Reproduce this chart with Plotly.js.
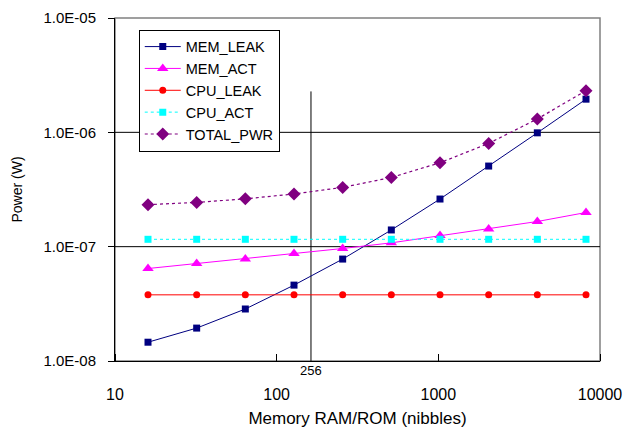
<!DOCTYPE html>
<html>
<head>
<meta charset="utf-8">
<script src="https://cdn.plot.ly/plotly-3.0.1.min.js"></script>
<style>html,body{margin:0;padding:0;background:#fff;}#chart{width:626px;height:428px;}</style>
</head>
<body>
<div id="chart"></div>
<script>
const memory = [16, 32, 64, 128, 256, 512, 1024, 2048, 4096, 8192];
const memLeak = [1.46e-8, 1.94e-8, 2.85e-8, 4.61e-8, 7.79e-8, 1.40e-7, 2.61e-7, 5.07e-7, 9.9e-7, 1.95e-6];
const memAct = [6.44e-8, 7.13e-8, 7.79e-8, 8.72e-8, 9.64e-8, 1.08e-7, 1.25e-7, 1.43e-7, 1.66e-7, 1.99e-7];
const cpuLeak = [3.79e-8, 3.79e-8, 3.79e-8, 3.79e-8, 3.79e-8, 3.79e-8, 3.79e-8, 3.79e-8, 3.79e-8, 3.79e-8];
const cpuAct = [1.16e-7, 1.16e-7, 1.16e-7, 1.16e-7, 1.16e-7, 1.16e-7, 1.16e-7, 1.16e-7, 1.16e-7, 1.16e-7];
const totalPwr = [2.33e-7, 2.44e-7, 2.62e-7, 2.89e-7, 3.30e-7, 4.03e-7, 5.42e-7, 8.0e-7, 1.31e-6, 2.31e-6];
const yTickVals = [1e-8, 1e-7, 1e-6, 1e-5];
const yTickText = ["1.0E-08", "1.0E-07", "1.0E-06", "1.0E-05"];
const xTickVals = [10, 100, 1000, 10000];
const xTickText = ["10", "100", "1000", "10000"];
const refLineX = 163;      // position of the reference line as drawn in the source
const refLineLabel = "256";
const refLineTop = 2.28e-6;

const fam = "Liberation Sans, Arial, sans-serif";

const traces = [
  {x: memory, y: memLeak, name: "MEM_LEAK", mode: "lines+markers",
   line: {color: "#000080", width: 1}, marker: {symbol: "square", size: 7, color: "#000080"}},
  {x: memory, y: memAct, name: "MEM_ACT", mode: "lines+markers",
   line: {color: "#FF00FF", width: 1}, marker: {symbol: "triangle-up", size: 10, color: "#FF00FF"}},
  {x: memory, y: cpuLeak, name: "CPU_LEAK", mode: "lines+markers",
   line: {color: "#FF0000", width: 1}, marker: {symbol: "circle", size: 7, color: "#FF0000"}},
  {x: memory, y: cpuAct, name: "CPU_ACT", mode: "lines+markers",
   line: {color: "#00FFFF", width: 1, dash: "dot"}, marker: {symbol: "square", size: 7, color: "#00FFFF"}},
  {x: memory, y: totalPwr, name: "TOTAL_PWR", mode: "lines+markers",
   line: {color: "#800080", width: 1.2, dash: "dot"}, marker: {symbol: "diamond", size: 10, color: "#800080"}}
];

const layout = {
  width: 626, height: 428,
  margin: {l: 115, r: 26, t: 18, b: 67},
  paper_bgcolor: "#fff", plot_bgcolor: "#fff",
  font: {family: fam, size: 13, color: "#000"},
  showlegend: true,
  legend: {x: 0.049, y: 0.966, xanchor: "left", yanchor: "top",
    bgcolor: "#fff", bordercolor: "#000", borderwidth: 1, font: {family: fam, size: 14.5, color: "#000"},
    tracegroupgap: 0, itemwidth: 36},
  xaxis: {type: "log", range: [1, 4], tickvals: xTickVals, ticktext: xTickText,
    showgrid: false, zeroline: false, showline: true, linecolor: "#000", linewidth: 1,
    ticks: "outside", ticklen: 19, tickcolor: "rgba(0,0,0,0)",
    minor: {tickmode: "array", tickvals: xTickVals, ticks: "inside", ticklen: 7, tickcolor: "#000", tickwidth: 1, showgrid: false},
    tickfont: {family: fam, size: 16, color: "#000"},
    title: {text: "Memory RAM/ROM (nibbles)", font: {family: fam, size: 17, color: "#000"}, standoff: 14}},
  yaxis: {type: "log", range: [-8, -5], tickvals: yTickVals, ticktext: yTickText,
    showgrid: false, zeroline: false, showline: true, linecolor: "#000", linewidth: 1,
    ticks: "outside", ticklen: 6, tickcolor: "#000", ticklabelstandoff: 9,
    tickfont: {family: fam, size: 15, color: "#000"},
    title: {text: "Power (W)", font: {family: fam, size: 14, color: "#000"}, standoff: 17}},
  shapes: [
    {type: "rect", xref: "paper", yref: "paper", x0: 0, x1: 1, y0: 0, y1: 1,
     line: {color: "#808080", width: 1.5}, layer: "below"},
    {type: "line", xref: "paper", yref: "y", x0: 0, x1: 1, y0: 1e-6, y1: 1e-6,
     line: {color: "#000", width: 1}, layer: "below"},
    {type: "line", xref: "paper", yref: "y", x0: 0, x1: 1, y0: 1e-7, y1: 1e-7,
     line: {color: "#000", width: 1}, layer: "below"},
    {type: "line", xref: "x", yref: "y", x0: refLineX, x1: refLineX, y0: 1e-8, y1: refLineTop,
     line: {color: "#000", width: 1}, layer: "below"}
  ],
  annotations: [
    {xref: "x", yref: "paper", x: Math.log10(refLineX), y: 0, yshift: 0, yanchor: "top",
     text: refLineLabel, showarrow: false, font: {family: fam, size: 13, color: "#000"}}
  ]
};

Plotly.newPlot("chart", traces, layout, {displayModeBar: false, staticPlot: true});
</script>
</body>
</html>
